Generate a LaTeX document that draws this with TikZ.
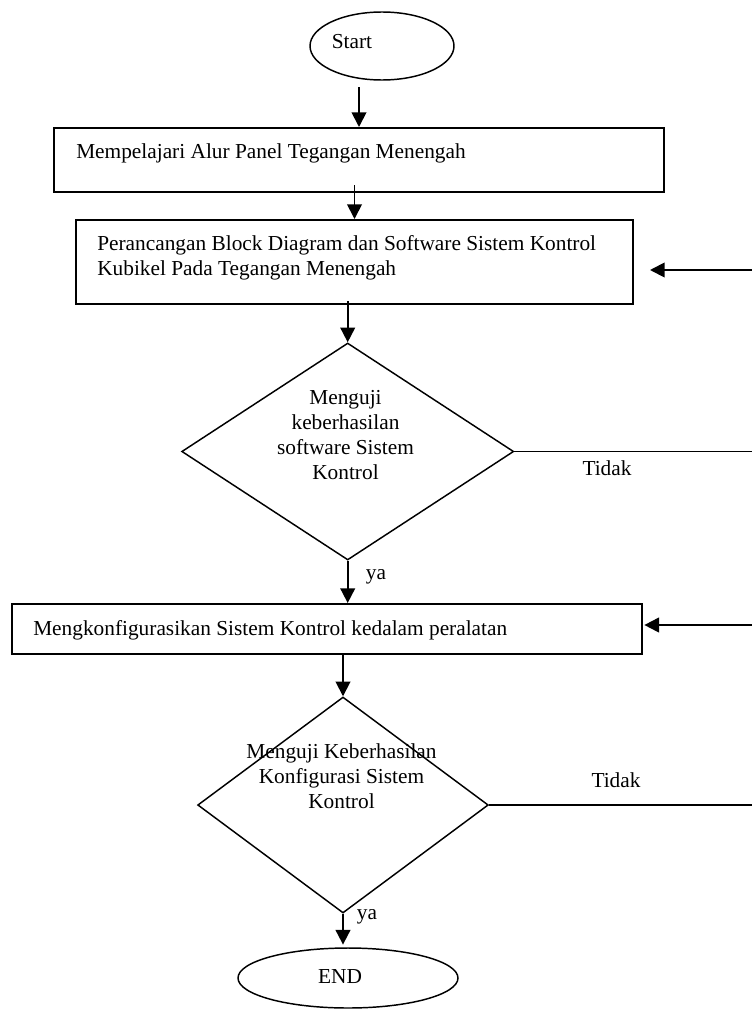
\documentclass[tikz,border=0pt]{standalone}
\usepackage{fontspec}
\setmainfont{Liberation Serif}
\usepackage{tikz}
\usetikzlibrary{shapes.geometric,arrows.meta}

\begin{document}
\begin{tikzpicture}[x=0.75pt, y=-0.75pt,
  every node/.style={font=\fontsize{16pt}{18.75pt}\selectfont, inner sep=0pt},
  terminal/.style={draw, ellipse, line width=1.1pt},
  procbox/.style={draw, rectangle, line width=1.5pt},
  decision/.style={draw, diamond, line width=1.1pt},
  arrow/.style={line width=1.4pt, -{Triangle[length=11pt, width=11pt]}},
  plainline/.style={line width=1.4pt}]
  \useasboundingbox (0,0) rectangle (752,1010);

  % Draw the terminals
  \node[terminal, minimum width=108pt, minimum height=51pt] (start) at (382,46) {};
  \node (starttext) at (352,42) {Start};
  \node[terminal, minimum width=165pt, minimum height=45pt] (endnode) at (348,978) {};
  \node (endtext) at (340,977) {END};

  % Draw the process boxes
  \node[procbox, minimum width=457.5pt, minimum height=48pt] (box1) at (359,160) {};
  \node[anchor=west] (text1) at (76,153) {Mempelajari Alur Panel Tegangan Menengah};
  \node[procbox, minimum width=417.75pt, minimum height=63pt] (box2) at (354.5,262) {};
  \node[anchor=west, align=left] (text2) at (97,257.5)
    {Perancangan Block Diagram dan Software Sistem Kontrol\\Kubikel Pada Tegangan Menengah};
  \node[procbox, minimum width=472.5pt, minimum height=37.5pt] (box3) at (327,629) {};
  \node[anchor=west] (text3) at (33,630) {Mengkonfigurasikan Sistem Kontrol kedalam peralatan};

  % Draw the decisions
  \node[decision, minimum width=249pt, minimum height=162.75pt] (dec1) at (347.7,451.5) {};
  \node[align=center] (dectext1) at (345.5,435)
    {Menguji\\keberhasilan\\software Sistem\\Kontrol};
  \node[decision, minimum width=218pt, minimum height=162pt] (dec2) at (343,805) {};
  \node[align=center] (dectext2) at (341.5,776.5)
    {Menguji Keberhasilan\\Konfigurasi Sistem\\Kontrol};

  % Right edge points for the loops
  \coordinate (edge) at (752,0);
  \coordinate (back1) at (752,270);
  \coordinate (back2) at (752,625);

  % Draw the connectors
  \draw[arrow] ([yshift=-5pt]start.south -| box1.north) -- (box1.north);
  \draw[arrow] ([yshift=6pt]box1.south -| box2.north) -- (box2.north);
  \draw[arrow] ([yshift=3pt]box2.south -| dec1.north) -- (dec1.north);
  \draw[arrow] (dec1.south) -- (dec1.south |- box3.north);
  \draw[arrow] (box3.south -| dec2.north) -- (dec2.north);
  \draw[arrow] (dec2.south) -- ([yshift=2pt]dec2.south |- endnode.north);

  % Draw the "Tidak" branches
  \draw[plainline] (dec1.east) -- (dec1.east -| edge);
  \draw[plainline] (dec2.east) -- (dec2.east -| edge);
  \draw[arrow, shorten >=12pt] (back1) -- (back1 -| box2.east);
  \draw[arrow, shorten >=1pt] (back2) -- (back2 -| box3.east);

  % Label the branches
  \node (tidak1) at (607,468) {Tidak};
  \node (tidak2) at (616,780) {Tidak};
  \node (ya1) at (376,577) {ya};
  \node (ya2) at (367,917) {ya};

\end{tikzpicture}
\end{document}
